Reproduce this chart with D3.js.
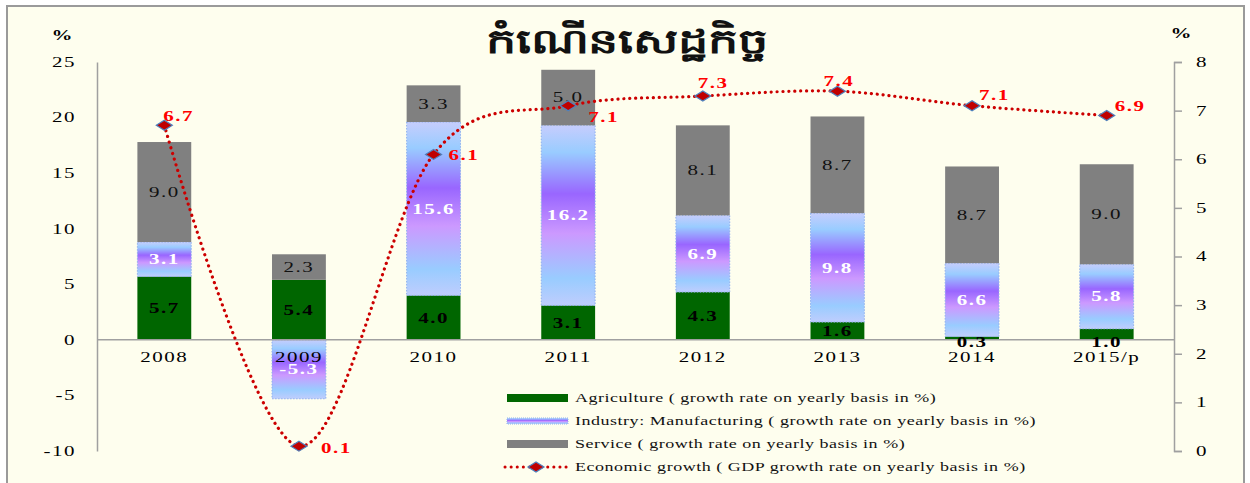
<!DOCTYPE html>
<html>
<head>
<meta charset="utf-8">
<script src="https://cdn.jsdelivr.net/npm/d3@7"></script>
<style>
    body { margin: 0; background: #ffffff; }
    text { font-family: "Liberation Serif", "Times New Roman", serif; }
</style>
</head>
<body>
<div id="svg-container"></div>
<script>

const years = ["2008", "2009", "2010", "2011", "2012", "2013", "2014", "2015/p"];
const agriculture = [5.7, 5.4, 4.0, 3.1, 4.3, 1.6, 0.3, 1.0];
const industry = [3.1, -5.3, 15.6, 16.2, 6.9, 9.8, 6.6, 5.8];
const service = [9.0, 2.3, 3.3, 5.0, 8.1, 8.7, 8.7, 9.0];
const gdp = [6.7, 0.1, 6.1, 7.1, 7.3, 7.4, 7.1, 6.9];

const leftTicks = [-10, -5, 0, 5, 10, 15, 20, 25];
const rightTicks = [0, 1, 2, 3, 4, 5, 6, 7, 8];

const legendNames = [
    "Agriculture ( growth rate on yearly basis in %)",
    "Industry: Manufacturing ( growth rate on yearly basis in %)",
    "Service ( growth rate on yearly basis in %)",
    "Economic growth ( GDP growth rate on yearly basis in %)"
];

// manual nudges of the red gdp labels, like in the source slide
const gdpLabelShift = [[-1, -9], [22, 2], [15, 1], [20, 11], [-5, -13], [-14, -10], [7, -11], [8, -9]];

const SX = 1.5; // the original chart was stretched sideways

const W = 1250, H = 483;

const svg = d3.select("#svg-container")
    .append("svg")
    .attr("width", W)
    .attr("height", H);

const defs = svg.append("defs");
const grad = defs.append("linearGradient")
    .attr("id", "indGrad")
    .attr("x1", 0).attr("y1", 0).attr("x2", 0).attr("y2", 1);
[["0%", "#c6cdfd"], ["15%", "#99ccff"], ["38%", "#9966ff"], ["60%", "#cc99ff"], ["85%", "#99ccff"], ["100%", "#bfcdfd"]]
    .forEach(s => grad.append("stop").attr("offset", s[0]).attr("stop-color", s[1]));

svg.append("rect")
    .attr("x", 7).attr("y", 6)
    .attr("width", 1237).attr("height", 490)
    .attr("fill", "#fefeee")
    .attr("stroke", "#9a9a9a")
    .attr("stroke-width", 2);

const stretchText = (sel, x, y) => sel.attr("transform", `translate(${x},${y}) scale(${SX},1)`);

const plotL = 97, plotR = 1174;

const x = d3.scaleBand()
    .domain(years)
    .range([plotL, plotR])
    .paddingInner(0.6)
    .paddingOuter(0.3);

const yL = d3.scaleLinear().domain([-10, 25]).range([451, 62]);
const yR = d3.scaleLinear().domain([0, 8]).range([451, 62]);

// title
svg.append("text")
    .attr("transform", "translate(627,53) scale(1.4,1)")
    .attr("text-anchor", "middle")
    .attr("font-family", "'Noto Sans Khmer', 'Khmer OS', 'Khmer OS System', 'Noto Serif Khmer', sans-serif")
    .attr("font-size", 34)
    .attr("font-weight", "bold")
    .attr("fill", "#111")
    .text("កំណើនសេដ្ឋកិច្ច");

// axes
const leftAxis = svg.append("g")
    .attr("transform", `translate(${plotL},0)`)
    .call(d3.axisLeft(yL).tickValues(leftTicks).tickSize(0).tickFormat(""));
const rightAxis = svg.append("g")
    .attr("transform", `translate(${plotR},0)`)
    .call(d3.axisRight(yR).tickValues(rightTicks).tickSize(8).tickSizeOuter(8).tickFormat(""));
[leftAxis, rightAxis].forEach(a => {
    a.selectAll("path, line").attr("stroke", "#a0a0a0").attr("stroke-width", 1.5);
});

leftTicks.forEach(t => {
    stretchText(svg.append("text"), 76, yL(t))
        .attr("text-anchor", "end")
        .attr("dy", "0.35em")
        .attr("font-size", 14)
        .attr("letter-spacing", 1)
        .text(t);
});
rightTicks.forEach(t => {
    stretchText(svg.append("text"), 1196, yR(t))
        .attr("dy", "0.35em")
        .attr("font-size", 14)
        .attr("letter-spacing", 1)
        .text(t);
});
stretchText(svg.append("text"), 62, 40).attr("text-anchor", "middle").attr("font-size", 14).attr("font-weight", "bold").text("%");
stretchText(svg.append("text"), 1181, 38).attr("text-anchor", "middle").attr("font-size", 14).attr("font-weight", "bold").text("%");

// stacked bars
const rows = years.map((yr, i) => ({year: yr, agr: agriculture[i], ind: industry[i], svc: service[i]}));
const stack = d3.stack().keys(["agr", "ind", "svc"]).offset(d3.stackOffsetDiverging);
const layers = stack(rows);

const fills = {agr: "#006600", ind: "url(#indGrad)", svc: "#808080"};
const labelColor = {agr: "#000", ind: "#fff", svc: "#111"};
const labelWeight = {agr: "bold", ind: "bold", svc: "normal"};

layers.forEach(layer => {
    let key = layer.key;
    let g = svg.append("g").attr("class", "layer-" + key);
    g.selectAll("rect")
        .data(layer)
        .enter()
        .append("rect")
        .attr("x", d => x(d.data.year))
        .attr("width", x.bandwidth())
        .attr("y", d => yL(Math.max(d[0], d[1])))
        .attr("height", d => Math.abs(yL(d[0]) - yL(d[1])))
        .attr("fill", fills[key])
        .attr("stroke", key === "ind" ? "#8fb0ee" : "none")
        .attr("stroke-dasharray", key === "ind" ? "1.5,1.5" : null)
        .attr("stroke-width", 1);
});

// x axis line over bars
svg.append("line")
    .attr("x1", plotL).attr("x2", plotR)
    .attr("y1", yL(0)).attr("y2", yL(0))
    .attr("stroke", "#a0a0a0")
    .attr("stroke-width", 1.5);

years.forEach(yr => {
    stretchText(svg.append("text"), x(yr) + x.bandwidth() / 2, 357)
        .attr("text-anchor", "middle")
        .attr("dy", "0.35em")
        .attr("font-size", 14)
        .attr("letter-spacing", 1)
        .text(yr);
});

layers.forEach(layer => {
    let key = layer.key;
    layer.forEach(d => {
        let y0 = yL(d[0]), y1 = yL(d[1]);
        let mid = (y0 + y1) / 2;
        if (Math.abs(y0 - y1) < 14) mid = yL(0) + 2;
        stretchText(svg.append("text"), x(d.data.year) + x.bandwidth() / 2, mid)
            .attr("text-anchor", "middle")
            .attr("dy", "0.35em")
            .attr("font-size", 14)
            .attr("font-weight", labelWeight[key])
            .attr("letter-spacing", 1)
            .attr("fill", labelColor[key])
            .text(d.data[key].toFixed(1));
    });
});

// gdp line
const pts = years.map((yr, i) => [x(yr) + x.bandwidth() / 2, yR(gdp[i])]);
svg.append("path")
    .attr("d", d3.line().curve(d3.curveCardinal.tension(0))(pts))
    .attr("fill", "none")
    .attr("stroke", "#cc0000")
    .attr("stroke-width", 3.2)
    .attr("stroke-linecap", "round")
    .attr("stroke-dasharray", "0.1,5.8");

const diamond = (cx, cy) => `M${cx - 8},${cy} L${cx},${cy - 5} L${cx + 8},${cy} L${cx},${cy + 5} Z`;

svg.append("g").selectAll("path")
    .data(pts)
    .enter()
    .append("path")
    .attr("d", p => diamond(p[0], p[1]))
    .attr("fill", "#c00000")
    .attr("stroke", "#4f81bd")
    .attr("stroke-width", 1.2);

pts.forEach((p, i) => {
    stretchText(svg.append("text"), p[0] + gdpLabelShift[i][0], p[1] + gdpLabelShift[i][1])
        .attr("dy", "0.35em")
        .attr("font-size", 14)
        .attr("font-weight", "bold")
        .attr("letter-spacing", 1)
        .attr("fill", "#ff0000")
        .text(gdp[i].toFixed(1));
});

// legend
const lg = svg.append("g").attr("class", "legend");
const rowY = i => 398 + i * 23;

lg.append("rect").attr("x", 507).attr("y", rowY(0) - 4).attr("width", 61).attr("height", 8).attr("fill", "#006600");
lg.append("rect").attr("x", 507).attr("y", rowY(1) - 3).attr("width", 61).attr("height", 6)
    .attr("fill", "url(#indGrad)").attr("stroke", "#8fb0ee").attr("stroke-dasharray", "1,1");
lg.append("rect").attr("x", 507).attr("y", rowY(2) - 4).attr("width", 61).attr("height", 8).attr("fill", "#808080");
lg.append("line").attr("x1", 505).attr("x2", 567).attr("y1", rowY(3)).attr("y2", rowY(3))
    .attr("stroke", "#cc0000").attr("stroke-width", 3).attr("stroke-linecap", "round").attr("stroke-dasharray", "0.1,6");
lg.append("path").attr("d", diamond(536, rowY(3))).attr("fill", "#c00000").attr("stroke", "#4f81bd").attr("stroke-width", 1.2);

legendNames.forEach((name, i) => {
    stretchText(lg.append("text"), 575, rowY(i))
        .attr("dy", "0.35em")
        .attr("font-size", 12)
        .attr("letter-spacing", 0.35)
        .attr("fill", "#111")
        .text(name);
});

</script>
</body>
</html>
